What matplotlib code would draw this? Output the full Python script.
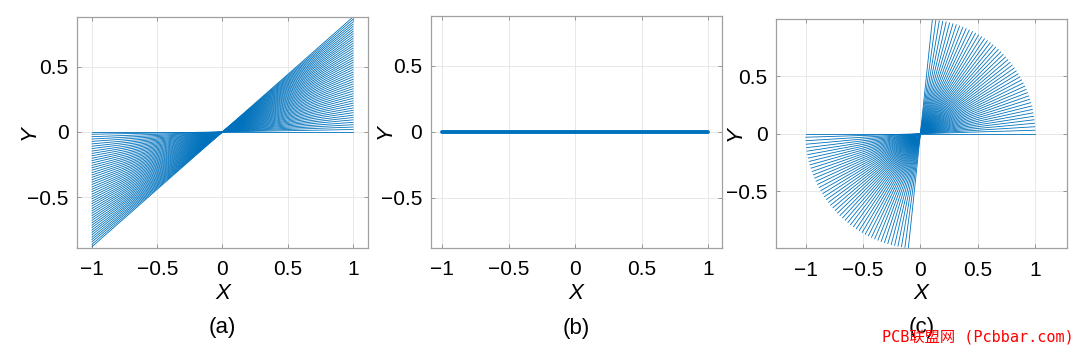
import matplotlib
matplotlib.use("Agg")
import matplotlib.pyplot as plt
import numpy as np

plt.rcParams['font.family'] = ['Liberation Sans', 'DejaVu Sans']

# (a) end heights of the fan lines at x = 1 (mirrored to x = -1)
a_end_y = [0, 0.018, 0.037, 0.055, 0.073, 0.092, 0.110, 0.128, 0.147, 0.165,
           0.183, 0.202, 0.220, 0.238, 0.257, 0.275, 0.293, 0.312, 0.330, 0.348,
           0.367, 0.385, 0.403, 0.422, 0.440, 0.458, 0.477, 0.495, 0.513, 0.532,
           0.550, 0.568, 0.587, 0.605, 0.623, 0.642, 0.660, 0.678, 0.697, 0.715,
           0.733, 0.752, 0.770, 0.788, 0.807, 0.825, 0.843, 0.862, 0.880]

# (b) everything collapses onto the x axis
b_end_x = [-1, 1]
b_end_y = [0, 0]

# (c) angles (deg) of the unit-length rays, mirrored through the origin
c_angles = [0, 1.75, 3.5, 5.25, 7, 8.75, 10.5, 12.25, 14, 15.75, 17.5, 19.25,
            21, 22.75, 24.5, 26.25, 28, 29.75, 31.5, 33.25, 35, 36.75, 38.5,
            40.25, 42, 43.75, 45.5, 47.25, 49, 50.75, 52.5, 54.25, 56, 57.75,
            59.5, 61.25, 63, 64.75, 66.5, 68.25, 70, 71.75, 73.5, 75.25, 77,
            78.75, 80.5, 82.25, 84]

xticks = [-1, -0.5, 0, 0.5, 1]
xtick_labels = ['\u22121', '\u22120.5', '0', '0.5', '1']
yticks = [-0.5, 0, 0.5]
ytick_labels = ['\u22120.5', '0', '0.5']
captions = ['(a)', '(b)', '(c)']
ylabel_x = [-0.127, -0.122, -0.103]

blue = '#0072BD'

fig = plt.figure(figsize=(10.8, 3.52), dpi=100)
ax_a = fig.add_axes([0.0713, 0.2955, 0.2694, 0.656])
ax_b = fig.add_axes([0.3988, 0.2955, 0.2694, 0.659])
ax_c = fig.add_axes([0.7185, 0.2946, 0.2692, 0.651])

# (a)
for y in a_end_y:
    ax_a.plot([0, 1], [0, y], color=blue, lw=0.6)
    ax_a.plot([0, -1], [0, -y], color=blue, lw=0.6)
ax_a.set_xlim(-1.115, 1.115)
ax_a.set_ylim(-0.89, 0.88)

# (b)
for x, y in zip(b_end_x, b_end_y):
    ax_b.plot([0, x], [0, y], color=blue, lw=2.8, solid_capstyle='round')
ax_b.set_xlim(-1.087, 1.1)
ax_b.set_ylim(-0.88, 0.877)

# (c)
for ang in c_angles:
    t = np.deg2rad(ang)
    ax_c.plot([0, np.cos(t)], [0, np.sin(t)], color=blue, lw=0.6)
    ax_c.plot([0, -np.cos(t)], [0, -np.sin(t)], color=blue, lw=0.6)
ax_c.set_xlim(-1.26, 1.277)
ax_c.set_ylim(-1.0, 1.0)

for ax, cap, ylx in zip([ax_a, ax_b, ax_c], captions, ylabel_x):
    ax.set_xticks(xticks)
    ax.set_xticklabels(xtick_labels)
    ax.set_yticks(yticks)
    ax.set_yticklabels(ytick_labels)
    ax.tick_params(direction='in', length=3, width=0.6, color='#888888',
                   labelsize=15, top=True, right=True)
    ax.tick_params(axis='x', pad=9)
    ax.tick_params(axis='y', pad=6)
    ax.grid(True, color='#e8e8e8', lw=0.7)
    ax.set_axisbelow(True)
    for s in ax.spines.values():
        s.set_color('#a0a0a0')
        s.set_linewidth(0.9)
    ax.set_xlabel('X', fontsize=16, style='italic')
    ax.xaxis.set_label_coords(0.5, -0.152)
    ax.set_ylabel('Y', fontsize=16, style='italic')
    ax.yaxis.set_label_coords(ylx, 0.5)
    ax.text(0.5, -0.346, cap, transform=ax.transAxes, ha='center', va='center',
            fontsize=16)

fig.text(1074 / 1080, 0.042, 'PCB联盟网 (Pcbbar.com)', color='red', fontsize=11,
         family=['DejaVu Sans Mono', 'Noto Sans CJK SC'], ha='right', va='center')

fig.savefig('out.png', dpi=100)
